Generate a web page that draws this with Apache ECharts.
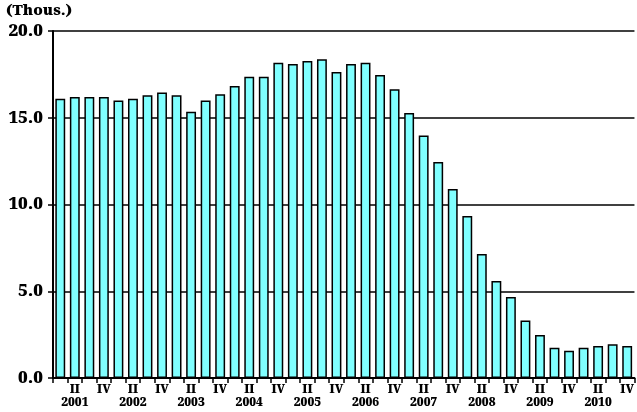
<!DOCTYPE html>
<html><head><meta charset="utf-8">
<script src="https://cdn.jsdelivr.net/npm/echarts@6/dist/echarts.min.js"></script>
<style>html,body{margin:0;padding:0;background:#fff}#c{width:637px;height:412px}</style>
</head><body><div id="c"></div>
<script>
const years = ['2001','2002','2003','2004','2005','2006','2007','2008','2009','2010'];
const quarterNames = ['I','II','III','IV'];
const values = [
  16.1, 16.2, 16.2, 16.2,
  16.0, 16.1, 16.3, 16.45,
  16.3, 15.35, 16.0, 16.35,
  16.83, 17.37, 17.37, 18.17,
  18.1, 18.27, 18.37, 17.64,
  18.1, 18.17, 17.46, 16.64,
  15.27, 13.98, 12.45, 10.9,
  9.34, 7.15, 5.59, 4.67,
  3.32, 2.48, 1.75, 1.57,
  1.75, 1.84, 1.94, 1.84
];
const yTicks = [0, 5, 10, 15, 20];
const unitLabel = '(Thous.)';

const categories = [];
years.forEach(y => quarterNames.forEach(q => categories.push(q + ' ' + y)));

const font = 'Noto Serif';
const chart = echarts.init(document.getElementById('c'), null, {renderer: 'canvas'});
chart.setOption({
  animation: false,
  backgroundColor: '#fff',
  grid: {left: 53, right: 0, top: 31, bottom: 34, containLabel: false},
  graphic: [{
    type: 'text', left: 6, top: 3,
    style: {text: unitLabel, fontFamily: font, fontWeight: 900, fontSize: 15, fill: '#000'}
  }],
  xAxis: {
    type: 'category',
    data: categories,
    axisLine: {lineStyle: {color: '#000', width: 2}},
    axisTick: {show: true, interval: 0, length: 5, lineStyle: {color: '#000', width: 1.5}},
    axisLabel: {
      interval: 0, margin: 5, color: '#000',
      fontFamily: font, fontWeight: 900, fontSize: 12, lineHeight: 13,
      formatter: function (v, i) {
        const q = i % 4;
        if (q === 1) return 'II\n' + years[Math.floor(i / 4)];
        if (q === 3) return 'IV';
        return '';
      }
    },
    splitLine: {show: false}
  },
  yAxis: {
    type: 'value', min: yTicks[0], max: yTicks[yTicks.length - 1], interval: 5,
    axisLine: {show: true, lineStyle: {color: '#000', width: 2}},
    axisTick: {show: true, length: 5, lineStyle: {color: '#000', width: 1.5}},
    axisLabel: {
      margin: 10, color: '#000', fontFamily: font, fontWeight: 900, fontSize: 17,
      formatter: v => v.toFixed(1)
    },
    splitLine: {show: true, lineStyle: {color: '#000', width: 1.5}}
  },
  series: [{
    type: 'bar',
    data: values,
    barCategoryGap: '32%',
    itemStyle: {color: '#80ffff', borderColor: '#000', borderWidth: 1.5}
  }]
});
</script></body></html>
